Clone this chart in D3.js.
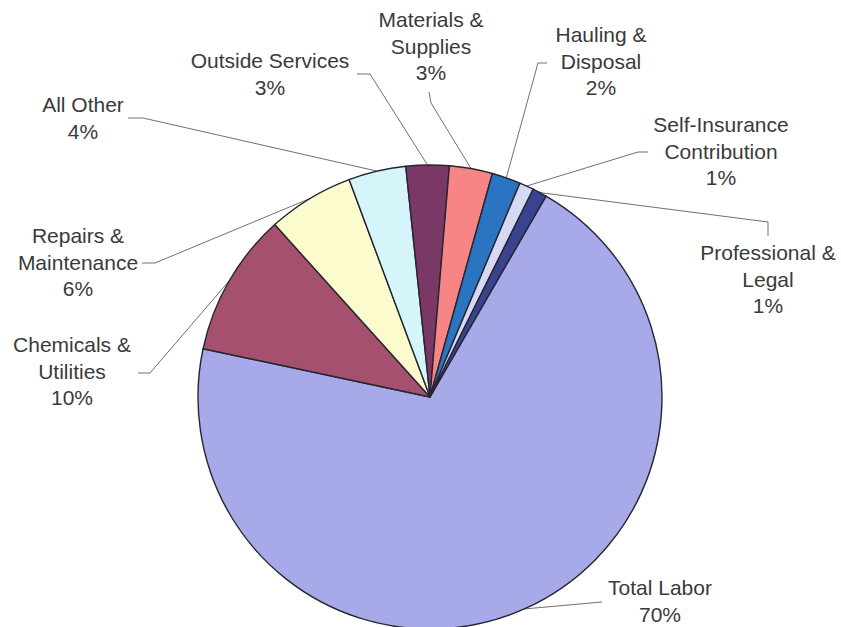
<!DOCTYPE html>
<html>
<head>
<meta charset="utf-8">
<script src="https://cdn.jsdelivr.net/npm/d3@7"></script>
<style>
  html, body { margin: 0; padding: 0; background: #ffffff; }
  svg { display: block; }
  text { font-family: "Liberation Sans", Arial, Helvetica, sans-serif; fill: #3a3a3a; }
</style>
</head>
<body>
<svg id="chart" width="841" height="627"></svg>
<script>
// Expense categories, in clockwise drawing order
const categories = [
  "Total Labor",
  "Chemicals & Utilities",
  "Repairs & Maintenance",
  "All Other",
  "Outside Services",
  "Materials & Supplies",
  "Hauling & Disposal",
  "Self-Insurance Contribution",
  "Professional & Legal"
];
// Share of total expenses, percent
const shares = [70, 10, 6, 4, 3, 3, 2, 1, 1];
// Label lines as printed
const labelLines = [
  ["Total Labor", "70%"],
  ["Chemicals &", "Utilities", "10%"],
  ["Repairs &", "Maintenance", "6%"],
  ["All Other", "4%"],
  ["Outside Services", "3%"],
  ["Materials &", "Supplies", "3%"],
  ["Hauling &", "Disposal", "2%"],
  ["Self-Insurance", "Contribution", "1%"],
  ["Professional &", "Legal", "1%"]
];

const sliceColors = [
  "#a7a9e8", "#a5506e", "#fbfbcd", "#d6f5fa", "#793865",
  "#f78585", "#2b74c2", "#d7d7f6", "#3a438f"
];

// Label block placement: centre x, first baseline y, and the leader's elbow points
const labelLayout = [
  { x: 660, y: 595, leader: [[602, 602]] },
  { x: 72,  y: 352, leader: [[138, 373], [150, 373]] },
  { x: 78,  y: 243, leader: [[142, 263], [155, 263]] },
  { x: 83,  y: 112, leader: [[128, 118], [143, 118]] },
  { x: 270, y: 68,  leader: [[357, 74], [370, 74]] },
  { x: 431, y: 27,  leader: [[429, 92], [431, 103]] },
  { x: 601, y: 42,  leader: [[547, 63], [538, 63]] },
  { x: 721, y: 132, leader: [[648, 152], [638, 152]] },
  { x: 768, y: 260, leader: [[768, 236], [768, 222]] }
];

const cx = 430, cy = 397, radius = 232;
const lineHeight = 26.5;

const data = categories.map((c, i) => ({ name: c, value: shares[i], i }));

const pie = d3.pie()
  .value(d => d.value)
  .sort(null)
  .startAngle(Math.PI / 6)
  .endAngle(Math.PI / 6 + 2 * Math.PI);

const arcs = pie(data);
const arc = d3.arc().innerRadius(0).outerRadius(radius);
const edgeArc = d3.arc().innerRadius(radius).outerRadius(radius);

const svg = d3.select("#chart");

// Leader lines
const leaders = svg.append("g")
  .attr("fill", "none")
  .attr("stroke", "#707070")
  .attr("stroke-width", 1);

arcs.forEach((a, k) => {
  const edge = edgeArc.centroid(a);
  const pts = labelLayout[k].leader.concat([[cx + edge[0], cy + edge[1]]]);
  leaders.append("path").attr("d", d3.line()(pts));
});

// Slices
const g = svg.append("g").attr("transform", `translate(${cx},${cy})`);
g.selectAll("path.slice")
  .data(arcs)
  .join("path")
  .attr("class", "slice")
  .attr("d", arc)
  .attr("fill", d => sliceColors[d.data.i])
  .attr("stroke", "#262630")
  .attr("stroke-width", 1.4)
  .attr("stroke-linejoin", "round");

// Labels
const labels = svg.append("g")
  .attr("font-size", 21)
  .attr("text-anchor", "middle");

arcs.forEach((a, k) => {
  const lay = labelLayout[k];
  const t = labels.append("text").attr("x", lay.x).attr("y", lay.y);
  labelLines[k].forEach((ln, j) => {
    t.append("tspan")
      .attr("x", lay.x)
      .attr("y", lay.y + j * lineHeight)
      .text(ln);
  });
});
</script>
</body>
</html>
